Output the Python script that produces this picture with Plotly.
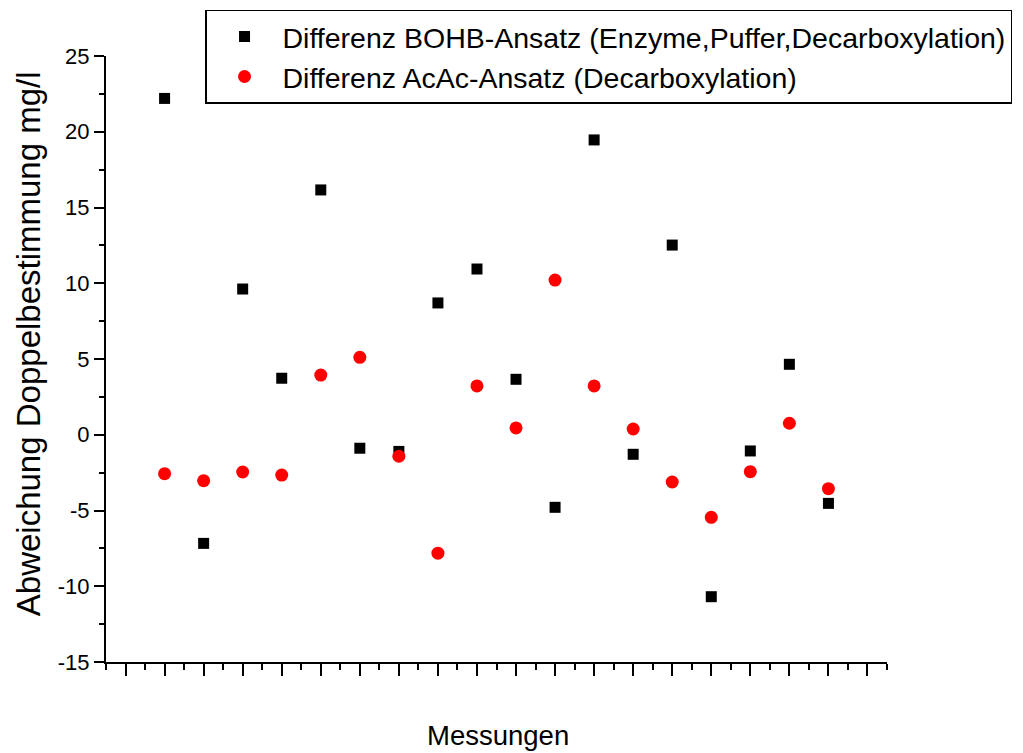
import plotly.graph_objects as go

measurements = list(range(1, 19))
bohb_diff = [22.2, -7.17, 9.62, 3.73, 16.16, -0.89, -1.1, 8.7, 10.94, 3.66,
             -4.79, 19.46, -1.29, 12.52, -10.69, -1.07, 4.65, -4.53]
acac_diff = [-2.57, -3.03, -2.46, -2.66, 3.94, 5.11, -1.42, -7.82, 3.22, 0.45,
             10.21, 3.22, 0.38, -3.12, -5.45, -2.44, 0.76, -3.56]

y_tickvals = [-15, -10, -5, 0, 5, 10, 15, 20, 25]
y_ticktext = ["-15", "-10", "-5", "0", "5", "10", "15", "20", "25"]

series_names = ["Differenz BOHB-Ansatz (Enzyme,Puffer,Decarboxylation)",
                "Differenz AcAc-Ansatz (Decarboxylation)"]
x_title = "Messungen"
y_title = "Abweichung Doppelbestimmung mg/l"

FONT = "Arial, Liberation Sans, sans-serif"

fig = go.Figure()
fig.add_trace(go.Scatter(
    x=measurements, y=bohb_diff, mode="markers", name=series_names[0],
    marker=dict(symbol="square", size=11, color="black"),
))
fig.add_trace(go.Scatter(
    x=measurements, y=acac_diff, mode="markers", name=series_names[1],
    marker=dict(symbol="circle", size=13, color="#ff0000"),
))

fig.update_layout(
    width=1015, height=745,
    margin=dict(l=98, r=136, t=48, b=91, autoexpand=False),
    paper_bgcolor="white", plot_bgcolor="white",
    font=dict(family=FONT, color="black"),
    showlegend=True,
    legend=dict(
        x=0.1268, y=1.076, xanchor="left", yanchor="top",
        bordercolor="black", borderwidth=1.5, bgcolor="white",
        font=dict(size=28.5, family=FONT, color="black"),
        itemwidth=66, tracegroupgap=0,
    ),
    xaxis=dict(
        range=[-0.5, 19.5], showgrid=False, zeroline=False,
        showline=True, linecolor="black", linewidth=2,
        ticks="outside", tick0=0, dtick=1, ticklen=12, tickwidth=2, tickcolor="black",
        showticklabels=False,
        minor=dict(ticks="outside", tick0=-0.5, dtick=1, ticklen=6, tickwidth=2, tickcolor="black"),
    ),
    yaxis=dict(
        range=[-15, 25], showgrid=False, zeroline=False,
        showline=True, linecolor="black", linewidth=2,
        ticks="outside", tickmode="array", tickvals=y_tickvals, ticktext=y_ticktext,
        ticklen=10, tickwidth=2, tickcolor="black",
        tickfont=dict(size=22, family=FONT, color="black"),
        minor=dict(ticks="outside", tick0=2.5, dtick=5, ticklen=5, tickwidth=2, tickcolor="black"),
    ),
    annotations=[
        dict(text=x_title, xref="paper", yref="paper", x=0.502, y=-0.122,
             showarrow=False, font=dict(size=27.5, family=FONT, color="black"),
             xanchor="center", yanchor="middle"),
        dict(text=y_title, xref="paper", yref="paper", x=-0.0999, y=0.526,
             showarrow=False, textangle=-90, font=dict(size=33, family=FONT, color="black"),
             xanchor="center", yanchor="middle"),
    ],
)

fig.write_html("out.html")
